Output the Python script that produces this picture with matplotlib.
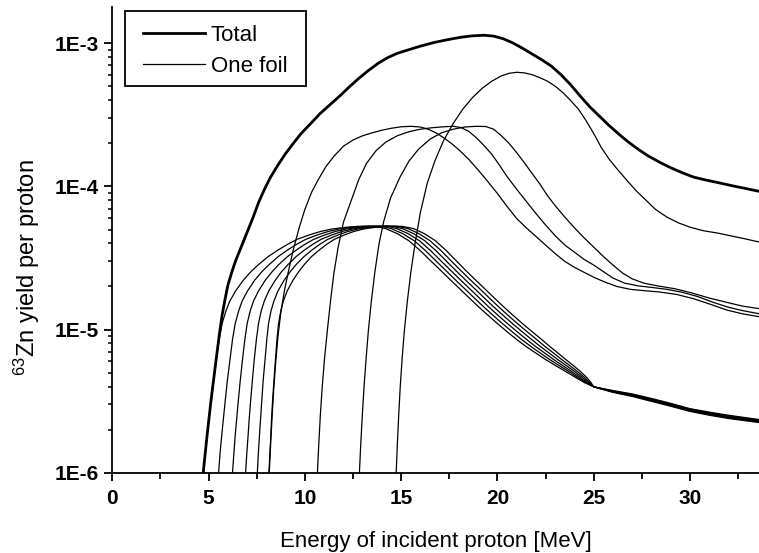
import numpy as np
import matplotlib
matplotlib.use("Agg")
import matplotlib.pyplot as plt
from matplotlib.patches import Rectangle
from matplotlib.ticker import FixedLocator, LogLocator, FuncFormatter, NullFormatter

plt.rcParams['font.family'] = ['Liberation Sans', 'DejaVu Sans']
plt.rcParams['mathtext.fontset'] = 'custom'
plt.rcParams['mathtext.rm'] = 'Liberation Sans'
plt.rcParams['mathtext.it'] = 'Liberation Sans:italic'

# total yield (thick line)
total_e = [4.72, 4.82, 4.92, 5.02, 5.12, 5.25, 5.4, 5.55, 5.7, 5.85, 6.0, 6.2, 6.4, 6.7,
           7.0, 7.3, 7.6, 7.9, 8.2, 8.6, 9.0, 9.4, 9.8, 10.3, 10.8, 11.3, 11.8, 12.3,
           12.8, 13.3, 13.8, 14.3, 14.8, 15.4, 16.0, 16.7, 17.4, 18.1, 18.7, 19.3, 19.8,
           20.3, 20.8, 21.3, 21.8, 22.3, 22.8, 23.3, 23.8, 24.3, 24.8, 25.3, 25.8, 26.3,
           26.8, 27.3, 27.8, 28.4, 29.0, 29.6, 30.2, 30.8, 31.5, 32.2, 32.9, 33.6]
total_y = [1.0e-6, 1.35e-6, 1.82e-6, 2.40e-6, 3.16e-6, 4.37e-6, 6.31e-6, 9.12e-6, 1.26e-5,
           1.62e-5, 2.04e-5, 2.51e-5, 3.02e-5, 3.80e-5, 4.79e-5, 6.03e-5, 7.76e-5, 9.55e-5,
           1.15e-4, 1.41e-4, 1.70e-4, 2.00e-4, 2.34e-4, 2.75e-4, 3.24e-4, 3.72e-4, 4.27e-4,
           4.95e-4, 5.69e-4, 6.46e-4, 7.24e-4, 7.94e-4, 8.51e-4, 9.02e-4, 9.55e-4, 1.012e-3,
           1.059e-3, 1.102e-3, 1.127e-3, 1.138e-3, 1.122e-3, 1.076e-3, 1.005e-3, 9.23e-4,
           8.41e-4, 7.67e-4, 6.92e-4, 6.03e-4, 5.13e-4, 4.27e-4, 3.59e-4, 3.09e-4, 2.66e-4,
           2.32e-4, 2.04e-4, 1.82e-4, 1.64e-4, 1.48e-4, 1.35e-4, 1.245e-4, 1.16e-4, 1.11e-4,
           1.06e-4, 1.01e-4, 9.66e-5, 9.23e-5]

# six thin foils: they share the same yield levels up to 25 MeV, energies differ
thin_levels = [1.0e-6, 1.35e-6, 1.82e-6, 2.40e-6, 3.16e-6, 4.37e-6, 6.17e-6, 8.51e-6,
               1.10e-5, 1.35e-5, 1.58e-5, 1.86e-5, 2.21e-5, 2.54e-5, 2.85e-5, 3.24e-5,
               3.59e-5, 3.94e-5, 4.27e-5, 4.57e-5, 4.84e-5, 5.04e-5, 5.16e-5, 5.25e-5,
               5.28e-5, 5.25e-5, 5.07e-5, 4.68e-5, 4.17e-5, 3.55e-5, 3.05e-5, 2.63e-5,
               2.26e-5, 1.95e-5, 1.68e-5, 1.45e-5, 1.26e-5, 1.10e-5, 9.66e-6, 8.51e-6,
               7.59e-6, 6.84e-6, 6.17e-6, 5.62e-6, 5.13e-6, 4.68e-6, 4.27e-6, 3.98e-6]
tail_e = [26.0, 27.0, 28.0, 29.0, 30.0, 31.0, 32.0, 33.6]

thin1_e = [4.74, 4.82, 4.92, 5.02, 5.12, 5.25, 5.40, 5.55, 5.70, 5.90, 6.10, 6.40, 6.80,
           7.20, 7.60, 8.10, 8.60, 9.10, 9.60, 10.20, 10.80, 11.40, 12.00, 12.60, 13.20,
           13.70, 14.20, 14.80, 15.40, 16.00, 16.50, 17.00, 17.50, 18.00, 18.50, 19.00,
           19.50, 20.00, 20.50, 21.00, 21.50, 22.00, 22.50, 23.00, 23.50, 24.00, 24.50, 25.00]
thin2_e = [5.52, 5.59, 5.68, 5.77, 5.86, 5.97, 6.11, 6.24, 6.38, 6.56, 6.74, 7.02, 7.39,
           7.77, 8.15, 8.62, 9.09, 9.57, 10.05, 10.62, 11.20, 11.78, 12.36, 12.94, 13.53,
           14.02, 14.49, 15.08, 15.68, 16.27, 16.77, 17.26, 17.76, 18.26, 18.76, 19.26,
           19.76, 20.26, 20.76, 21.26, 21.75, 22.23, 22.71, 23.19, 23.66, 24.12, 24.57, 25.00]
thin3_e = [6.24, 6.31, 6.38, 6.46, 6.54, 6.64, 6.76, 6.88, 7.00, 7.16, 7.33, 7.59, 7.94,
           8.30, 8.65, 9.10, 9.55, 10.00, 10.46, 11.01, 11.57, 12.13, 12.69, 13.26, 13.83,
           14.32, 14.78, 15.36, 15.95, 16.54, 17.03, 17.52, 18.02, 18.52, 19.02, 19.52,
           20.02, 20.52, 21.02, 21.52, 21.99, 22.46, 22.92, 23.37, 23.81, 24.24, 24.64, 25.00]
thin4_e = [6.92, 6.98, 7.05, 7.11, 7.18, 7.27, 7.37, 7.48, 7.59, 7.73, 7.89, 8.12, 8.46,
           8.79, 9.13, 9.55, 9.97, 10.41, 10.84, 11.38, 11.91, 12.46, 13.00, 13.56, 14.12,
           14.59, 15.07, 15.64, 16.23, 16.81, 17.30, 17.78, 18.28, 18.78, 19.28, 19.78,
           20.28, 20.78, 21.28, 21.78, 22.24, 22.69, 23.13, 23.56, 23.97, 24.36, 24.71, 25.00]
thin5_e = [7.53, 7.58, 7.64, 7.70, 7.76, 7.83, 7.93, 8.02, 8.11, 8.24, 8.39, 8.60, 8.92,
           9.24, 9.55, 9.96, 10.36, 10.77, 11.19, 11.71, 12.22, 12.75, 13.28, 13.83, 14.37,
           14.84, 15.36, 15.92, 16.50, 17.08, 17.56, 18.04, 18.54, 19.04, 19.54, 20.04,
           20.54, 21.04, 21.54, 22.04, 22.48, 22.92, 23.34, 23.74, 24.12, 24.48, 24.78, 25.00]
thin6_e = [8.13, 8.18, 8.23, 8.27, 8.32, 8.39, 8.47, 8.55, 8.63, 8.75, 8.88, 9.08, 9.38,
           9.68, 9.97, 10.35, 10.74, 11.13, 11.53, 12.03, 12.53, 13.04, 13.56, 14.09, 14.62,
           15.09, 15.65, 16.20, 16.78, 17.35, 17.83, 18.30, 18.80, 19.30, 19.80, 20.30,
           20.80, 21.30, 21.80, 22.30, 22.73, 23.15, 23.55, 23.93, 24.28, 24.60, 24.85, 25.00]

thin1_tail = [3.75e-6, 3.55e-6, 3.30e-6, 3.05e-6, 2.80e-6, 2.65e-6, 2.52e-6, 2.35e-6]
thin2_tail = [3.72e-6, 3.52e-6, 3.27e-6, 3.02e-6, 2.78e-6, 2.62e-6, 2.49e-6, 2.33e-6]
thin3_tail = [3.70e-6, 3.49e-6, 3.24e-6, 2.99e-6, 2.75e-6, 2.60e-6, 2.46e-6, 2.30e-6]
thin4_tail = [3.68e-6, 3.46e-6, 3.21e-6, 2.96e-6, 2.73e-6, 2.57e-6, 2.44e-6, 2.28e-6]
thin5_tail = [3.66e-6, 3.44e-6, 3.18e-6, 2.94e-6, 2.70e-6, 2.55e-6, 2.42e-6, 2.26e-6]
thin6_tail = [3.64e-6, 3.41e-6, 3.15e-6, 2.91e-6, 2.68e-6, 2.52e-6, 2.39e-6, 2.24e-6]

# thicker foils
thick1_e = [8.15, 8.22, 8.3, 8.38, 8.47, 8.6, 8.75, 8.95, 9.15, 9.4, 9.7, 10.0, 10.35,
            10.7, 11.1, 11.5, 12.0, 12.5, 13.0, 13.5, 14.0, 14.5, 15.0, 15.5, 16.0, 16.4,
            16.8, 17.2, 17.6, 18.0, 18.5, 19.0, 19.5, 20.0, 20.5, 21.0, 21.5, 22.0, 22.5,
            23.0, 23.5, 24.0, 24.5, 25.0, 25.6, 26.2, 26.9, 27.6, 28.4, 29.3, 30.2, 31.0,
            31.9, 32.7, 33.58]
thick1_y = [1.0e-6, 1.58e-6, 2.51e-6, 3.80e-6, 5.62e-6, 8.91e-6, 1.32e-5, 1.91e-5, 2.57e-5,
            3.63e-5, 5.13e-5, 6.92e-5, 9.12e-5, 1.12e-4, 1.38e-4, 1.62e-4, 1.91e-4, 2.11e-4,
            2.26e-4, 2.37e-4, 2.47e-4, 2.55e-4, 2.61e-4, 2.63e-4, 2.60e-4, 2.51e-4, 2.37e-4,
            2.19e-4, 2.00e-4, 1.80e-4, 1.55e-4, 1.30e-4, 1.08e-4, 8.91e-5, 7.24e-5, 5.96e-5,
            5.13e-5, 4.47e-5, 3.89e-5, 3.39e-5, 2.99e-5, 2.72e-5, 2.51e-5, 2.32e-5, 2.14e-5,
            2.00e-5, 1.91e-5, 1.87e-5, 1.83e-5, 1.76e-5, 1.64e-5, 1.51e-5, 1.37e-5, 1.29e-5,
            1.23e-5]

thick2_e = [10.65, 10.72, 10.8, 10.9, 11.02, 11.17, 11.33, 11.5, 11.72, 12.0, 12.4, 12.8,
            13.2, 13.7, 14.2, 14.8, 15.4, 16.0, 16.6, 17.2, 17.7, 18.1, 18.5, 18.9, 19.3,
            19.7, 20.1, 20.5, 21.0, 21.5, 22.0, 22.5, 23.0, 23.5, 24.0, 24.5, 25.0, 25.5,
            26.0, 26.6, 27.3, 28.0, 28.8, 29.6, 30.4, 31.2, 32.0, 32.8, 33.58]
thick2_y = [1.0e-6, 1.58e-6, 2.51e-6, 3.98e-6, 6.31e-6, 1.0e-5, 1.58e-5, 2.45e-5, 3.72e-5,
            5.62e-5, 7.94e-5, 1.12e-4, 1.45e-4, 1.78e-4, 2.04e-4, 2.26e-4, 2.41e-4, 2.51e-4,
            2.57e-4, 2.61e-4, 2.63e-4, 2.58e-4, 2.43e-4, 2.19e-4, 1.93e-4, 1.68e-4, 1.41e-4,
            1.17e-4, 9.55e-5, 7.85e-5, 6.46e-5, 5.37e-5, 4.52e-5, 3.89e-5, 3.47e-5, 3.09e-5,
            2.82e-5, 2.54e-5, 2.29e-5, 2.11e-5, 2.02e-5, 1.97e-5, 1.91e-5, 1.82e-5, 1.70e-5,
            1.55e-5, 1.43e-5, 1.35e-5, 1.29e-5]

thick3_e = [12.83, 12.9, 12.98, 13.07, 13.18, 13.3, 13.45, 13.63, 13.85, 14.1, 14.45, 14.95,
            15.4, 15.9, 16.5, 17.1, 17.7, 18.3, 18.9, 19.4, 19.8, 20.2, 20.6, 21.0, 21.4,
            21.8, 22.2, 22.6, 23.0, 23.5, 24.0, 24.5, 25.0, 25.5, 26.0, 26.5, 27.0, 27.6,
            28.3, 29.2, 30.1, 31.0, 31.9, 32.7, 33.58]
thick3_y = [1.0e-6, 1.58e-6, 2.51e-6, 3.98e-6, 6.31e-6, 1.0e-5, 1.58e-5, 2.51e-5, 3.98e-5,
            5.75e-5, 8.32e-5, 1.17e-4, 1.50e-4, 1.82e-4, 2.14e-4, 2.37e-4, 2.51e-4, 2.60e-4,
            2.63e-4, 2.62e-4, 2.51e-4, 2.26e-4, 2.00e-4, 1.72e-4, 1.46e-4, 1.23e-4, 1.04e-4,
            8.61e-5, 7.33e-5, 6.10e-5, 5.13e-5, 4.37e-5, 3.76e-5, 3.24e-5, 2.82e-5, 2.48e-5,
            2.26e-5, 2.11e-5, 2.02e-5, 1.93e-5, 1.80e-5, 1.66e-5, 1.55e-5, 1.46e-5, 1.40e-5]

last_e = [14.74, 14.8, 14.87, 14.95, 15.05, 15.17, 15.32, 15.5, 15.72, 16.0, 16.35, 16.75,
          17.2, 17.7, 18.2, 18.7, 19.2, 19.7, 20.2, 20.6, 21.0, 21.4, 21.8, 22.2, 22.6,
          23.0, 23.4, 23.8, 24.2, 24.6, 25.0, 25.4, 25.8, 26.2, 26.7, 27.2, 27.7, 28.2,
          28.8, 29.4, 30.0, 30.7, 31.4, 32.1, 32.8, 33.58]
last_y = [1.0e-6, 1.58e-6, 2.51e-6, 3.98e-6, 6.31e-6, 1.0e-5, 1.58e-5, 2.51e-5, 3.98e-5,
          6.61e-5, 1.05e-4, 1.51e-4, 2.09e-4, 2.75e-4, 3.47e-4, 4.17e-4, 4.84e-4, 5.43e-4,
          5.92e-4, 6.17e-4, 6.27e-4, 6.21e-4, 6.03e-4, 5.75e-4, 5.43e-4, 5.01e-4, 4.52e-4,
          3.98e-4, 3.47e-4, 2.88e-4, 2.34e-4, 1.86e-4, 1.55e-4, 1.33e-4, 1.11e-4, 9.33e-5,
          8.04e-5, 6.92e-5, 6.10e-5, 5.56e-5, 5.19e-5, 4.90e-5, 4.73e-5, 4.52e-5, 4.32e-5,
          4.09e-5]

x_ticks = [0, 5, 10, 15, 20, 25, 30]
x_minor = [2.5, 7.5, 12.5, 17.5, 22.5, 27.5, 32.5]

fig = plt.figure(figsize=(7.59, 5.53), dpi=100)
ax = fig.add_axes([0.148, 0.1452, 0.852, 0.842])

thin_e = [thin1_e, thin2_e, thin3_e, thin4_e, thin5_e, thin6_e]
thin_tails = [thin1_tail, thin2_tail, thin3_tail, thin4_tail, thin5_tail, thin6_tail]
for e, tail in zip(thin_e, thin_tails):
    ax.plot(e + tail_e, thin_levels + tail, color='black', lw=0.9)

for e, y in [(thick1_e, thick1_y), (thick2_e, thick2_y), (thick3_e, thick3_y), (last_e, last_y)]:
    ax.plot(e, y, color='black', lw=0.9)

ax.plot(total_e, total_y, color='black', lw=2.0)

ax.set_yscale('log')
ax.set_xlim(0, 33.58)
ax.set_ylim(1e-6, 1.79e-3)

for s in ['top', 'right']:
    ax.spines[s].set_visible(False)
for s in ['left', 'bottom']:
    ax.spines[s].set_linewidth(1.3)

ax.xaxis.set_major_locator(FixedLocator(x_ticks))
ax.xaxis.set_minor_locator(FixedLocator(x_minor))
ax.yaxis.set_major_locator(LogLocator(base=10, numticks=10))
ax.yaxis.set_minor_locator(LogLocator(base=10, subs=np.arange(2, 10), numticks=20))
ax.yaxis.set_major_formatter(FuncFormatter(lambda v, p: "1E%d" % int(round(np.log10(v)))))
ax.yaxis.set_minor_formatter(NullFormatter())

ax.tick_params(which='major', direction='out', length=6, width=1.3, labelsize=15)
ax.tick_params(axis='x', which='major', pad=6)
ax.tick_params(axis='y', which='major', pad=4)
ax.tick_params(axis='x', which='minor', direction='out', length=4, width=1.3)
ax.tick_params(axis='y', which='minor', direction='out', length=2.8, width=1.1)
for lab in ax.get_xticklabels() + ax.get_yticklabels():
    lab.set_fontweight('bold')

ax.set_xlabel('Energy of incident proton [MeV]', fontsize=16, labelpad=16)
ax.set_ylabel(r'$^{\mathrm{63}}$Zn yield per proton', fontsize=17, ha='right')
ax.yaxis.set_label_coords(-0.109, 0.674)

# legend box (Origin style: wider side padding than top/bottom)
ax.add_patch(Rectangle((0.0196, 0.8304), 0.2799, 0.161, transform=ax.transAxes,
                       facecolor='white', edgecolor='black', lw=1.3, zorder=4))
h1, = ax.plot([], [], color='black', lw=2.0, label='Total')
h2, = ax.plot([], [], color='black', lw=0.9, label='One foil')
leg = ax.legend(handles=[h1, h2], loc='upper left', bbox_to_anchor=(0.0475, 0.9614),
                fontsize=16, frameon=False, handlelength=2.8, handletextpad=0.25,
                borderpad=0, labelspacing=0.44, borderaxespad=0)
leg.set_zorder(5)

fig.savefig('out.png', dpi=100)
